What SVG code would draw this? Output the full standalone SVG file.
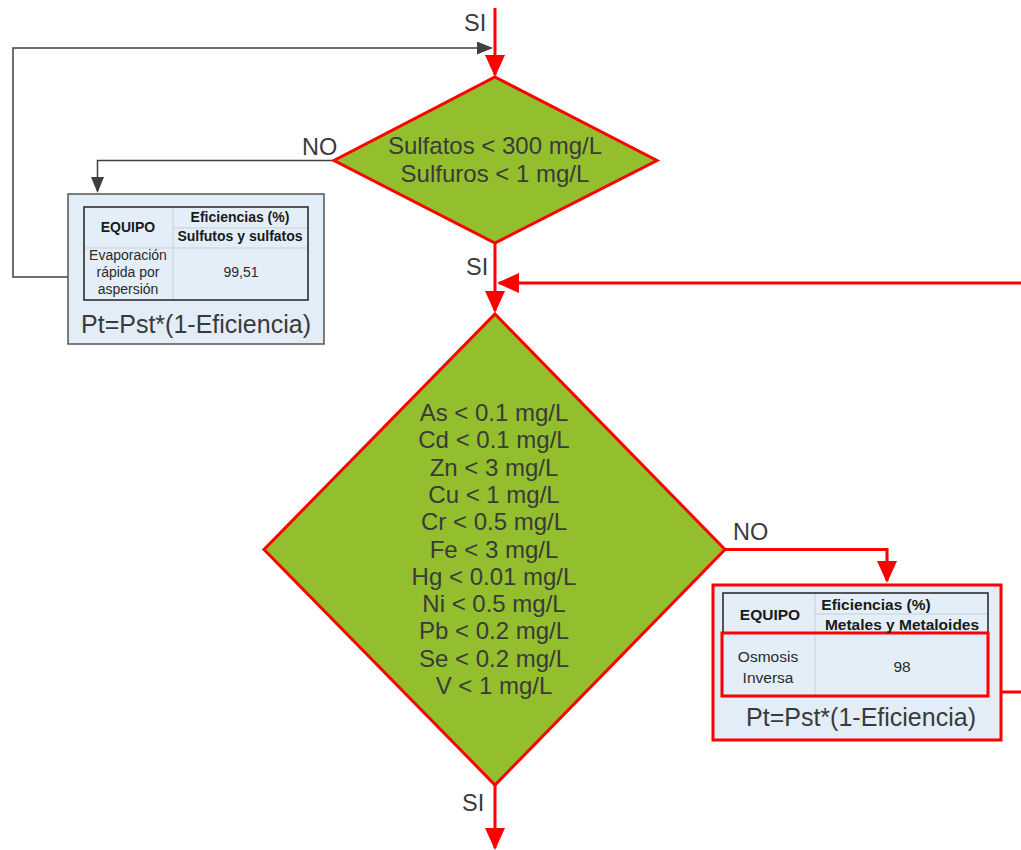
<svg xmlns="http://www.w3.org/2000/svg" width="1021" height="850" viewBox="0 0 1021 850">
<defs>
<style>
text{font-family:"Liberation Sans",Arial,sans-serif;fill:#3a3a3a}
.lbl{font-size:23.5px}
.dtx{font-size:24px;text-anchor:middle}
.tb{font-size:14px;font-weight:bold;fill:#1a1a1a;text-anchor:middle}
.tn{font-size:14px;fill:#2a2a2a;text-anchor:middle}
.tb2{font-size:15.5px;font-weight:bold;fill:#1a1a1a;text-anchor:middle}
.tn2{font-size:15.5px;fill:#2a2a2a;text-anchor:middle}
.pt{font-size:25px;text-anchor:middle}
.dia{fill:#93be2d;stroke:#ff0000;stroke-width:3}
.red{fill:none;stroke:#ff0000;stroke-width:3}
.gray{fill:none;stroke:#404040;stroke-width:1.5}
.boxg{fill:#e2edf7;stroke:#555;stroke-width:1.5}
.boxr{fill:#e2edf7;stroke:#ff0000;stroke-width:3}
.tout{fill:none;stroke:#222;stroke-width:1.5}
.tin{fill:none;stroke:#c5d1dc;stroke-width:1}
</style>
<marker id="ar" markerUnits="userSpaceOnUse" markerWidth="22" markerHeight="20" refX="20" refY="10" orient="auto"><path d="M0,0 L22,10 L0,20 z" fill="#ff0000"/></marker>
<marker id="ag" markerUnits="userSpaceOnUse" markerWidth="16" markerHeight="13" refX="14" refY="6.5" orient="auto"><path d="M0,0 L16,6.5 L0,13 z" fill="#404040"/></marker>
</defs>
<g id="connectors">
<path class="red" d="M495,8 V75" marker-end="url(#ar)"/>
<path class="gray" d="M68,277 H13 V48 H491" marker-end="url(#ag)"/>
<path class="gray" d="M334,160.5 H97.5 V191" marker-end="url(#ag)"/>
<path class="red" d="M495,243 V311" marker-end="url(#ar)"/>
<path class="red" d="M1022,283 H499" marker-end="url(#ar)"/>
<path class="red" d="M725,549.5 H887 V581" marker-end="url(#ar)"/>
<path class="red" d="M495,785 V848" marker-end="url(#ar)"/>
<path class="red" d="M1001,692 H1022"/>
<text class="lbl" x="464" y="31">SI</text>
<text class="lbl" x="302" y="155">NO</text>
<text class="lbl" x="466" y="275">SI</text>
<text class="lbl" x="733" y="540">NO</text>
<text class="lbl" x="462" y="811">SI</text>
</g>
<g id="decision1">
<polygon class="dia" points="495,77 657,160.5 495,243 334,160.5"/>
<text class="dtx" x="495" y="154">Sulfatos &lt; 300 mg/L</text>
<text class="dtx" x="495" y="182">Sulfuros &lt; 1 mg/L</text>
</g>
<g id="equipo1">
<rect class="boxg" x="68" y="194" width="256" height="150"/>
<rect x="84" y="207" width="224" height="93" fill="#e4eef8"/>
<path class="tin" d="M173,207 V300 M173,228 H308 M84,248 H308"/>
<rect class="tout" x="84" y="207" width="224" height="93"/>
<text class="tb" x="128" y="232">EQUIPO</text>
<text class="tb" x="240" y="221.5">Eficiencias (%)</text>
<text class="tb" x="240" y="241">Sulfutos y sulfatos</text>
<text class="tn" x="128" y="259.5">Evaporación</text>
<text class="tn" x="128" y="277">rápida por</text>
<text class="tn" x="128" y="294">aspersión</text>
<text class="tn" x="241" y="277">99,51</text>
<text class="pt" x="196" y="333">Pt=Pst*(1-Eficiencia)</text>
</g>
<g id="decision2">
<polygon class="dia" points="495,314 725,549.5 495,785 264,549.5"/>
<text class="dtx" x="494" y="421">As &lt; 0.1 mg/L</text>
<text class="dtx" x="494" y="448.3">Cd &lt; 0.1 mg/L</text>
<text class="dtx" x="494" y="475.6">Zn &lt; 3 mg/L</text>
<text class="dtx" x="494" y="502.9">Cu &lt; 1 mg/L</text>
<text class="dtx" x="494" y="530.2">Cr &lt; 0.5 mg/L</text>
<text class="dtx" x="494" y="557.5">Fe &lt; 3 mg/L</text>
<text class="dtx" x="494" y="584.8">Hg &lt; 0.01 mg/L</text>
<text class="dtx" x="494" y="612.1">Ni &lt; 0.5 mg/L</text>
<text class="dtx" x="494" y="639.4">Pb &lt; 0.2 mg/L</text>
<text class="dtx" x="494" y="666.7">Se &lt; 0.2 mg/L</text>
<text class="dtx" x="494" y="694">V &lt; 1 mg/L</text>
</g>
<g id="equipo2">
<rect class="boxr" x="713" y="585" width="288" height="155"/>
<rect x="723" y="593" width="265" height="103" fill="#e4eef8"/>
<path class="tin" d="M815,593 V696 M815,614 H988"/>
<path class="tout" d="M723,633 V593 H988 V633"/>
<rect x="722" y="633" width="266" height="63" fill="none" stroke="#ff0000" stroke-width="3"/>
<text class="tb2" x="770" y="620">EQUIPO</text>
<text class="tb2" x="876" y="610">Eficiencias (%)</text>
<text class="tb2" x="902" y="630">Metales y Metaloides</text>
<text class="tn2" x="768" y="662">Osmosis</text>
<text class="tn2" x="768" y="683">Inversa</text>
<text class="tn2" x="902" y="672">98</text>
<text class="pt" x="861" y="726">Pt=Pst*(1-Eficiencia)</text>
</g>
</svg>
